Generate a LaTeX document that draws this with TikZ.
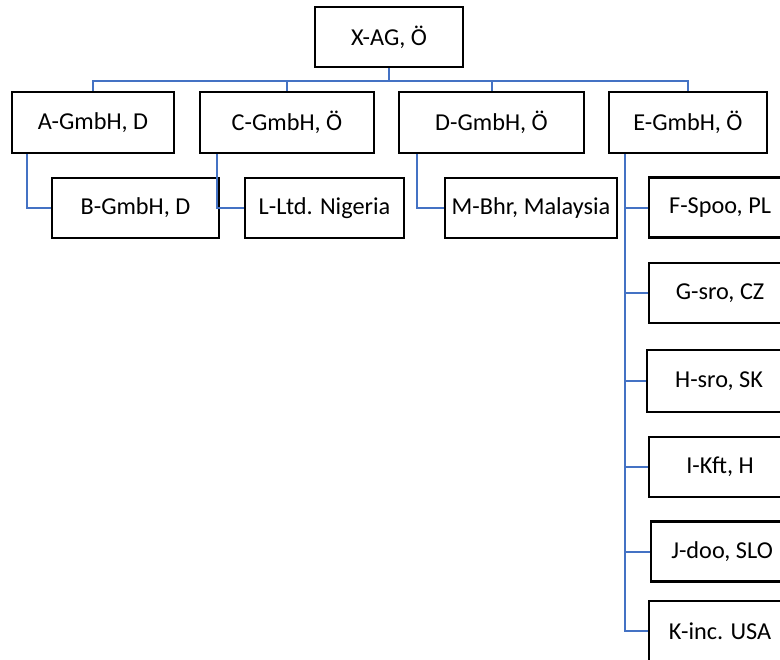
\documentclass[tikz,border=0pt]{standalone}
\usepackage{fontspec}
\setmainfont{Carlito}
\usetikzlibrary{calc}
\definecolor{wireblue}{HTML}{4472C4}
\tikzset{
    my-box/.style={
        draw, line width=1.6pt, minimum height=45pt, inner sep=0pt,
        font=\fontsize{18.2}{20}\selectfont
    },
    my-wire/.style={
        draw=wireblue, line width=1.5pt
    },
}
\begin{document}
\begin{tikzpicture}[x=0.75pt, y=-0.75pt]

        % PAGE
        \useasboundingbox (0, 0) rectangle (780, 659);
        \clip (0, 0) rectangle (780, 659);

        % TOP
        \node[my-box, minimum width=111pt] (X) at (389, 37) {X-AG, Ö};

        % FIRST LEVEL
        \node[my-box, minimum width=121.5pt, minimum height=45.75pt] (A) at (93, 122.5)    {A-GmbH, D};
        \node[my-box, minimum width=130.5pt, minimum height=45.75pt] (C) at (287, 122.5)   {C-GmbH, Ö};
        \node[my-box, minimum width=138.75pt, minimum height=45.75pt] (D) at (491.5, 122.5) {D-GmbH, Ö};
        \node[my-box, minimum width=118.5pt, minimum height=45.75pt] (E) at (688, 122.5)   {E-GmbH, Ö};

        % SECOND LEVEL
        \node[my-box, minimum width=125.25pt] (B) at (135.5, 208) {B-GmbH, D};
        \node[my-box, minimum width=119.25pt] (L) at (324.5, 208) {L-Ltd. Nigeria};
        \node[my-box, minimum width=129pt]    (M) at (531, 208)   {M-Bhr, Malaysia};

        % RIGHT COLUMN
        \node[my-box, minimum width=106.5pt, anchor=west] (F) at (648, 207.5) {F-Spoo, PL};
        \node[my-box, minimum width=106.5pt, anchor=west] (G) at (648, 293)   {G-sro, CZ};
        \node[my-box, minimum width=108pt, minimum height=46.5pt, anchor=west] (H) at (646, 381) {H-sro, SK};
        \node[my-box, minimum width=106.5pt, anchor=west] (I) at (648, 467)   {I-Kft, H};
        \node[my-box, minimum width=106.5pt, anchor=west] (J) at (650, 551.5) {J-doo, SLO};
        \node[my-box, minimum width=106.5pt, anchor=west] (K) at (648, 631)   {K-inc. USA};

        % BUS BELOW TOP
        \coordinate (BUS) at ($(X.south) + (0, 13)$);
        \draw[my-wire] (X.south) -- (BUS);
        \draw[my-wire] (A.north) |- (BUS) -| (E.north);
        \draw[my-wire] (C.north) -- (C.north |- BUS);
        \draw[my-wire] (D.north) -- (D.north |- BUS);

        % SECOND LEVEL WIRES
        \draw[my-wire] ($(A.south west) + (16, 0)$) |- (B.west);
        \draw[my-wire] ($(C.south west) + (18, 0)$) |- (L.west);
        \draw[my-wire] ($(D.south west) + (19, 0)$) |- (M.west);

        % RIGHT COLUMN WIRES
        \coordinate (EBUS) at ($(E.south west) + (17, 0)$);
        \draw[my-wire] (EBUS) |- (K.west);
        \foreach \n in {F, G, H, I, J}
            \draw[my-wire] (\n.west) -- (\n.west -| EBUS);

\end{tikzpicture}
\end{document}
